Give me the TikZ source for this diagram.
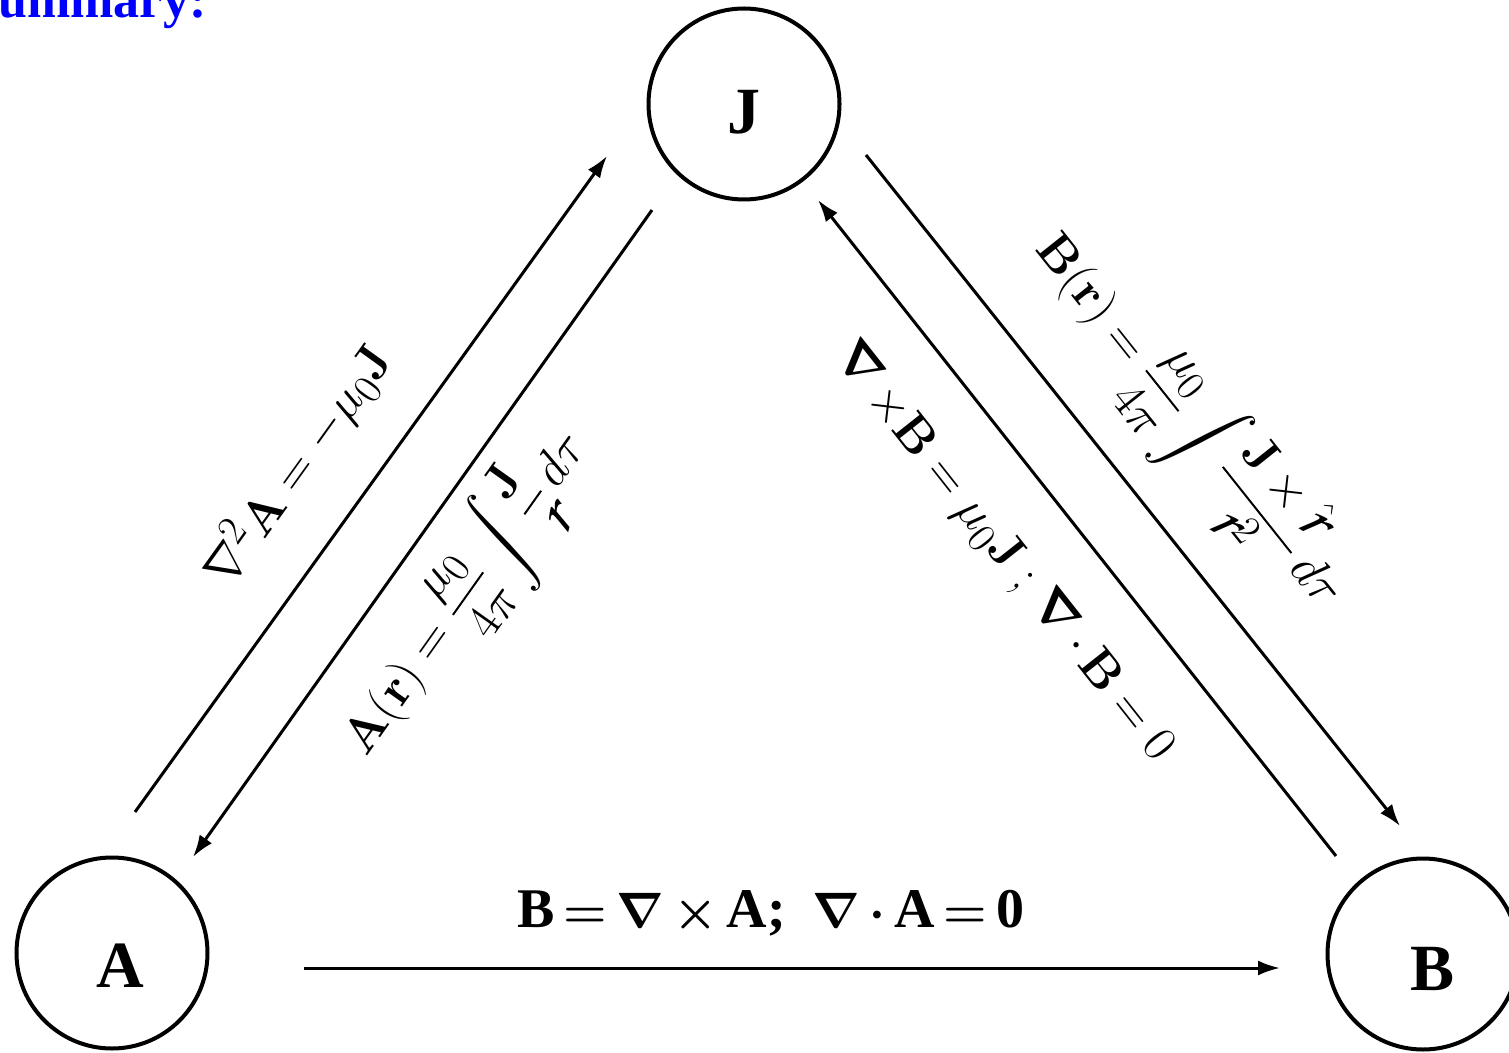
\documentclass[tikz,border=0pt]{standalone}
\usepackage{amsmath}
\usepackage[no-math]{fontspec}
\setmainfont{Liberation Serif}
\newfontfamily\chorus{texgyrechorus-mediumitalic.otf}
\usetikzlibrary{arrows.meta}
% Griffiths' script r (separation vector)
\newcommand{\curlyr}{\mbox{\chorus\fontsize{34}{34}\selectfont r}}
\newcommand{\bsy}[1]{\boldsymbol{#1}}
\newcommand{\gp}{\hspace{4.5pt}}
\begin{document}
\begin{tikzpicture}[x=0.5pt,y=-0.5pt,
  state/.style={circle, draw, line width=2pt, minimum size=95.5pt, inner sep=0pt,
    text depth=0pt, font=\fontsize{33}{40}\selectfont\bfseries},
  conn/.style={line width=1.5pt, -{Latex[length=11pt,width=7.5pt]}},
  eq/.style={font=\fontsize{28}{34}\selectfont, inner sep=0pt}]
\useasboundingbox (0,0) rectangle (1509,1053);

% heading
\node[blue, font=\fontsize{26}{30}\selectfont\bfseries, anchor=base west, inner sep=0pt]
  (title) at (-2,18) {ummary:};

% the three fields
\node[state, text height=30pt] (J) at (744,104) {J};
\node[state, text height=34pt] (A) at (112,953) {\hspace*{8pt}A};
\node[state, text height=36pt] (B) at (1423,954) {\hspace*{9pt}B};

% connector end points
\coordinate (AJs) at (135,812);  \coordinate (AJe) at (607,156);
\coordinate (JAs) at (652,210);  \coordinate (JAe) at (193,857);
\coordinate (JBs) at (866,155);  \coordinate (JBe) at (1400,826);
\coordinate (BJs) at (1336,856); \coordinate (BJe) at (818,200);
\coordinate (ABs) at (304,968);  \coordinate (ABe) at (1280,968);

\draw[conn] (AJs) -- (AJe);
\draw[conn] (JAs) -- (JAe);
\draw[conn] (JBs) -- (JBe);
\draw[conn] (BJs) -- (BJe);
\draw[conn] (ABs) -- (ABe);

% relations
\node[eq, rotate=54.3] (lapl) at (297,465)
  {$\nabla^2\mathbf{A} = -\mu_0\mathbf{J}$};
\node[eq, rotate=54.6] (aint) at (467,595)
  {$\mathbf{A}(\mathbf{r}) = \dfrac{\mu_0}{4\pi}\displaystyle\int\dfrac{\mathbf{J}}{\curlyr}\,d\tau$};
\node[eq, rotate=-51.7] (curl) at (1003,552)
  {$\bsy{\nabla}\,{\times}\mathbf{B} = \mu_0\mathbf{J}\;{;}\;\bsy{\nabla}\,{\cdot}\,\mathbf{B} = 0$};
\node[eq, rotate=-51.5] (bs) at (1190,420)
  {$\mathbf{B}(\mathbf{r}) = \dfrac{\mu_0}{4\pi}\displaystyle\int\dfrac{\mathbf{J}\times\hat{\curlyr}}{\curlyr^2}\,d\tau$};
\node[eq, font=\fontsize{28}{34}\selectfont\bfseries] (gauge) at (771,913)
  {B\gp$\bsy{=}$\gp$\bsy{\nabla}$\gp$\bsy{\times}$\gp A;\gp\gp\gp$\bsy{\nabla}$\gp$\bsy{\cdot}$\gp A\gp$\bsy{=}$\gp 0};
\end{tikzpicture}
\end{document}
